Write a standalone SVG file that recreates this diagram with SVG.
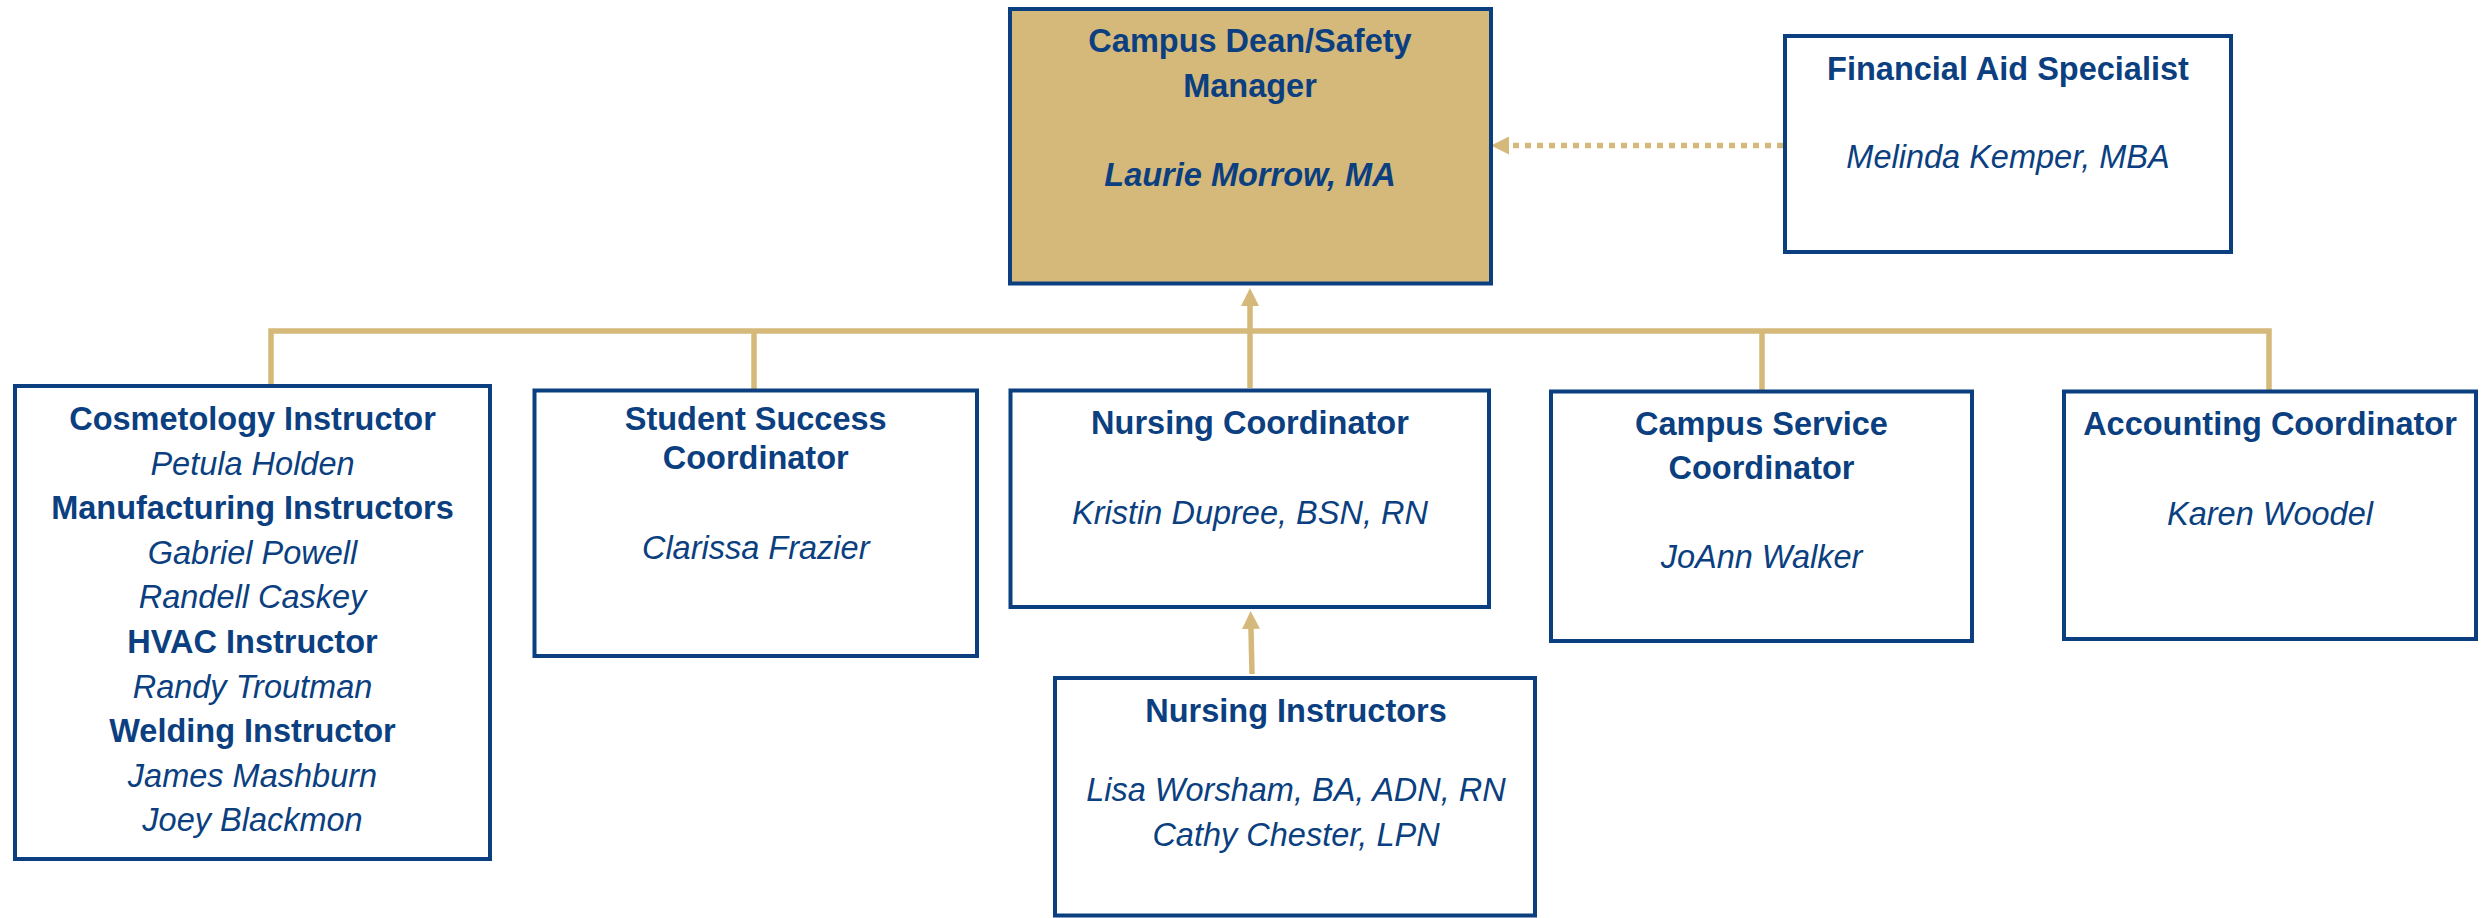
<svg xmlns="http://www.w3.org/2000/svg" width="2484" height="918" viewBox="0 0 2484 918">
<style>
.box{fill:#ffffff;stroke:#0B3F80;stroke-width:4}
.gold{fill:#D5B97B}
.t{font-family:"Liberation Sans",Arial,sans-serif;font-size:32.5px;fill:#0B3F80;text-anchor:middle}
.b{font-weight:bold}
.i{font-style:italic}
.con{fill:none;stroke:#D5B97B;stroke-width:5.5}
</style>
<defs>
<marker id="ah" markerUnits="userSpaceOnUse" viewBox="0 0 18 18" markerWidth="18" markerHeight="18" refX="0" refY="9" orient="auto">
<path d="M0,0 L18,9 L0,18 Z" fill="#D5B97B"/>
</marker>
</defs>
<rect width="2484" height="918" fill="#ffffff"/>
<g id="connectors">
<path class="con" d="M271,386 V331 H2269 V390"/>
<path class="con" d="M754,333 V389"/>
<path class="con" d="M1762,333 V390"/>
<path class="con" d="M1250,388 V306" marker-end="url(#ah)"/>
<path class="con" d="M1252,674 L1251,629" marker-end="url(#ah)"/>
<path class="con" d="M1783,145.5 H1509" stroke-dasharray="6 6" marker-end="url(#ah)"/>
</g>
<g id="dean">
<rect class="box gold" x="1010" y="9" width="481" height="274.5" style="fill:#D5B97B"/>
<text class="t b" x="1250" y="52">Campus Dean/Safety</text>
<text class="t b" x="1250" y="97">Manager</text>
<text class="t b i" x="1250" y="186">Laurie Morrow, MA</text>
</g>
<g id="financial-aid">
<rect class="box" x="1785" y="36" width="446" height="216"/>
<text class="t b" x="2008" y="80">Financial Aid Specialist</text>
<text class="t i" x="2008" y="168">Melinda Kemper, MBA</text>
</g>
<g id="instructors">
<rect class="box" x="15" y="386" width="475" height="473"/>
<text class="t b" x="252.5" y="430">Cosmetology Instructor</text>
<text class="t i" x="252.5" y="474.6">Petula Holden</text>
<text class="t b" x="252.5" y="519.2">Manufacturing Instructors</text>
<text class="t i" x="252.5" y="563.8">Gabriel Powell</text>
<text class="t i" x="252.5" y="608.4">Randell Caskey</text>
<text class="t b" x="252.5" y="653">HVAC Instructor</text>
<text class="t i" x="252.5" y="697.6">Randy Troutman</text>
<text class="t b" x="252.5" y="742.2">Welding Instructor</text>
<text class="t i" x="252.5" y="786.8">James Mashburn</text>
<text class="t i" x="252.5" y="831.4">Joey Blackmon</text>
</g>
<g id="student-success">
<rect class="box" x="534.5" y="390.5" width="442.5" height="265.5"/>
<text class="t b" x="755.7" y="430">Student Success</text>
<text class="t b" x="755.7" y="469">Coordinator</text>
<text class="t i" x="755.7" y="558.7">Clarissa Frazier</text>
</g>
<g id="nursing-coordinator">
<rect class="box" x="1010.5" y="390.5" width="478.5" height="216.5"/>
<text class="t b" x="1250" y="434">Nursing Coordinator</text>
<text class="t i" x="1250" y="523.5">Kristin Dupree, BSN, RN</text>
</g>
<g id="campus-service">
<rect class="box" x="1551" y="391.5" width="421" height="249.5"/>
<text class="t b" x="1761.5" y="435">Campus Service</text>
<text class="t b" x="1761.5" y="479">Coordinator</text>
<text class="t i" x="1761.5" y="568">JoAnn Walker</text>
</g>
<g id="accounting">
<rect class="box" x="2064" y="391.5" width="412" height="247.5"/>
<text class="t b" x="2270" y="435">Accounting Coordinator</text>
<text class="t i" x="2270" y="524.7">Karen Woodel</text>
</g>
<g id="nursing-instructors">
<rect class="box" x="1055" y="678" width="480" height="237.5"/>
<text class="t b" x="1296" y="721.8">Nursing Instructors</text>
<text class="t i" x="1296" y="801">Lisa Worsham, BA, ADN, RN</text>
<text class="t i" x="1296" y="846">Cathy Chester, LPN</text>
</g>
</svg>
